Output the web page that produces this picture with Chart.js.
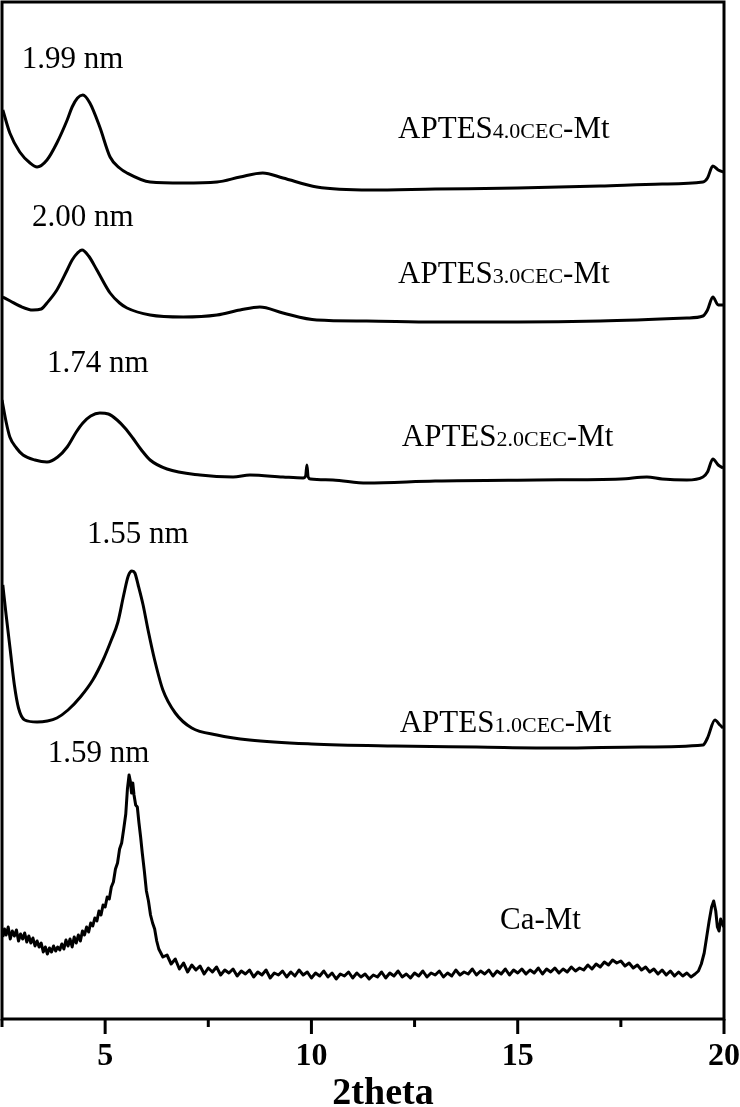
<!DOCTYPE html>
<html>
<head>
<meta charset="utf-8">
<title>XRD patterns</title>
<script src="https://cdn.jsdelivr.net/npm/chart.js@4.4.0/dist/chart.umd.min.js"></script>
<style>
  html, body { margin: 0; padding: 0; background: #fff; }
  canvas { display: block; }
</style>
</head>
<body>
<canvas id="xrd" width="740" height="1107"></canvas>
<script>
// sample names, top to bottom, and the basal spacing noted over each first peak
const sampleNames = ['APTES4.0CEC-Mt', 'APTES3.0CEC-Mt', 'APTES2.0CEC-Mt', 'APTES1.0CEC-Mt', 'Ca-Mt'];
const spacingLabels = ['1.99 nm', '2.00 nm', '1.74 nm', '1.55 nm', '1.59 nm'];
const xTickValues = [5, 10, 15, 20];

// 2theta (deg) and stacked intensity (a.u., offsets included)
const theta40 = [2.52, 2.69, 2.93, 3.18, 3.35, 3.59, 3.83, 4.08, 4.2, 4.33, 4.46, 4.63, 4.87, 5.12, 5.35, 5.53, 6.09, 6.89, 7.71, 8.27, 8.82, 9.31, 10.13, 11.42, 13, 15, 17, 18.5, 19.49, 19.6, 19.73, 19.86, 19.98];
const int40 = [909, 886, 867, 856, 852, 859, 876, 899, 912, 921, 924, 916, 892, 862, 851, 846, 837, 836, 837, 842, 846, 841, 832, 829, 830, 831, 833, 835, 837, 841, 853, 849, 847];

const theta30 = [2.52, 2.7, 2.93, 3.25, 3.45, 3.59, 3.83, 4.08, 4.2, 4.33, 4.44, 4.6, 4.8, 5.12, 5.35, 5.53, 6.09, 6.89, 7.71, 8.27, 8.75, 9.31, 10.13, 11.34, 13, 15, 17, 19.1, 19.49, 19.6, 19.73, 19.86, 19.98];
const int30 = [722, 718, 713, 709, 710, 716, 729, 749, 759, 766, 769, 763, 749, 726, 716, 711, 704, 702, 704, 709, 712, 706, 699, 698, 697, 697, 698, 701, 703, 709, 722, 714, 714];

const theta20 = [2.5, 2.6, 2.69, 2.85, 3.01, 3.3, 3.59, 3.85, 4.08, 4.3, 4.46, 4.65, 4.87, 5.08, 5.29, 5.48, 5.67, 5.88, 6.09, 6.5, 7.3, 8.1, 8.51, 9.31, 9.8, 9.86, 9.89, 9.92, 9.98, 10.52, 11.34, 13, 15.46, 17.5, 18.13, 18.5, 19.1, 19.49, 19.6, 19.73, 19.86, 19.98];
const int20 = [619, 597, 582, 571, 564, 559, 557, 562, 572, 587, 596, 603, 606, 605, 599, 591, 581, 569, 559, 550, 544, 542, 544, 542, 541, 543, 554, 542, 540, 539, 536, 538, 539, 540, 542, 540, 539, 542, 547, 560, 554, 551];

const theta10 = [2.52, 2.6, 2.7, 2.8, 2.9, 3.05, 3.35, 3.6, 3.83, 4.1, 4.4, 4.7, 4.95, 5.15, 5.31, 5.45, 5.56, 5.65, 5.72, 5.8, 5.92, 6.04, 6.2, 6.4, 6.7, 7.1, 7.71, 8.5, 10, 12, 14, 16, 18, 19.49, 19.6, 19.78, 19.9, 19.98];
const int10 = [434, 404, 369, 334, 311, 299, 297, 298, 301, 309, 322, 339, 359, 379, 397, 424, 443, 448, 446, 434, 414, 389, 359, 329, 306, 291, 284, 279, 275, 273, 272, 271, 272, 274, 281, 299, 294, 291];

const thetaCa = [
  2.52, 2.56, 2.6, 2.65, 2.7, 2.75, 2.8, 2.85, 2.9, 2.95, 3.0, 3.05, 3.1, 3.15, 3.2, 3.25, 3.3, 3.35, 3.4, 3.45,
  3.5, 3.55, 3.6, 3.65, 3.7, 3.75, 3.8, 3.85, 3.9, 3.95, 4.0, 4.05, 4.1, 4.15, 4.2, 4.25, 4.3, 4.35, 4.4, 4.45,
  4.5, 4.55, 4.6, 4.65, 4.7, 4.75, 4.8, 4.85, 4.9, 4.95, 5.0, 5.05, 5.1, 5.15, 5.2, 5.25, 5.3, 5.35, 5.4, 5.45,
  5.5, 5.54, 5.58, 5.61, 5.64, 5.67, 5.7, 5.74, 5.78, 5.82, 5.86, 5.9, 5.95, 6.0, 6.05, 6.1, 6.15, 6.2, 6.25, 6.3,
  6.4, 6.5, 6.6, 6.7, 6.8, 6.9, 7.0, 7.1, 7.2, 7.3, 7.4, 7.5, 7.6, 7.7, 7.8, 7.9, 8.0, 8.1, 8.2, 8.3,
  8.4, 8.5, 8.6, 8.7, 8.8, 8.9, 9.0, 9.1, 9.2, 9.3, 9.4, 9.5, 9.6, 9.7, 9.8, 9.9, 10.0, 10.1, 10.2, 10.3,
  10.4, 10.5, 10.6, 10.7, 10.8, 10.9, 11.0, 11.1, 11.2, 11.3, 11.4, 11.5, 11.6, 11.7, 11.8, 11.9, 12.0, 12.1, 12.2, 12.3,
  12.4, 12.5, 12.6, 12.7, 12.8, 12.9, 13.0, 13.1, 13.2, 13.3, 13.4, 13.5, 13.6, 13.7, 13.8, 13.9, 14.0, 14.1, 14.2, 14.3,
  14.4, 14.5, 14.6, 14.7, 14.8, 14.9, 15.0, 15.1, 15.2, 15.3, 15.4, 15.5, 15.6, 15.7, 15.8, 15.9, 16.0, 16.1, 16.2, 16.3,
  16.4, 16.5, 16.6, 16.7, 16.8, 16.9, 17.0, 17.1, 17.2, 17.3, 17.4, 17.5, 17.6, 17.7, 17.8, 17.9, 18.0, 18.1, 18.2, 18.3,
  18.4, 18.5, 18.6, 18.7, 18.8, 18.9, 19.0, 19.1, 19.2, 19.3, 19.38, 19.45, 19.52, 19.58, 19.64, 19.7, 19.75, 19.8, 19.84, 19.88,
  19.92, 19.96, 19.99
];
const intCa = [
  82, 90, 84, 92, 80, 88, 83, 89, 78, 85, 80, 86, 77, 83, 76, 81, 73, 78, 72, 76,
  67, 72, 65, 71, 67, 73, 68, 72, 69, 75, 70, 79, 73, 80, 72, 82, 76, 84, 78, 88,
  84, 92, 87, 96, 93, 101, 98, 108, 104, 114, 112, 122, 120, 132, 137, 150, 156, 170, 176, 190,
  205, 230, 244, 238, 226, 236, 224, 214, 212, 196, 182, 166, 148, 128, 118, 104, 96, 90, 78, 70,
  62, 64, 55, 60, 50, 56, 47, 54, 49, 53, 45, 51, 47, 52, 44, 49, 46, 50, 43, 48,
  45, 49, 42, 47, 44, 49, 41, 46, 44, 48, 42, 47, 43, 49, 44, 47, 41, 46, 43, 48,
  42, 46, 40, 45, 43, 47, 41, 46, 42, 45, 40, 44, 42, 47, 41, 46, 43, 48, 42, 45,
  41, 46, 43, 48, 42, 46, 44, 48, 42, 46, 43, 49, 44, 47, 45, 50, 44, 48, 45, 49,
  43, 48, 45, 50, 44, 49, 46, 50, 45, 49, 46, 51, 45, 50, 47, 51, 46, 50, 47, 52,
  48, 51, 49, 54, 50, 55, 52, 57, 54, 59, 56, 58, 53, 56, 51, 54, 49, 52, 47, 50,
  45, 49, 44, 48, 43, 47, 43, 46, 42, 45, 48, 55, 66, 82, 98, 112, 118, 108, 92, 88,
  100, 96, 92
];

const seriesTheta = [theta40, theta30, theta20, theta10, thetaCa];
const seriesInt = [int40, int30, int20, int10, intCa];

const SERIF = '"Liberation Serif", "Times New Roman", serif';

// where the texts sit, in data units (left edge, baseline)
const spacingAt = [[2.98, 951], [3.23, 793], [3.59, 647], [4.56, 476], [3.61, 257]];
const nameAt = [[12.10, 881], [12.10, 736], [12.19, 573], [12.14, 287], [14.57, 90]];

const xrdDecor = {
  id: 'xrdDecor',
  afterDraw(chart) {
    const { ctx, chartArea: a, scales: { x, y } } = chart;
    ctx.save();
    ctx.fillStyle = '#000';
    ctx.strokeStyle = '#000';
    ctx.textBaseline = 'alphabetic';
    ctx.textAlign = 'left';

    // d-spacing notes
    ctx.font = '31px ' + SERIF;
    spacingLabels.forEach((t, i) => {
      ctx.fillText(t, x.getPixelForValue(spacingAt[i][0]), y.getPixelForValue(spacingAt[i][1]));
    });

    // sample names, CEC part set smaller
    sampleNames.forEach((name, i) => {
      let px = x.getPixelForValue(nameAt[i][0]);
      const py = y.getPixelForValue(nameAt[i][1]);
      const m = name.match(/^(APTES)([\d.]+CEC)(-Mt)$/);
      const parts = m ? [[m[1], 31], [m[2], 22], [m[3], 31]] : [[name, 31]];
      parts.forEach(([txt, size]) => {
        ctx.font = size + 'px ' + SERIF;
        ctx.fillText(txt, px, py);
        px += ctx.measureText(txt).width;
      });
    });

    // frame
    ctx.lineWidth = 3;
    ctx.strokeRect(a.left, a.top, a.right - a.left, a.bottom - a.top);

    // bottom ticks, major every 5, minor between
    for (let v = 2.5; v <= 20.001; v += 2.5) {
      const px = x.getPixelForValue(v);
      const len = Math.abs(v % 5) < 1e-6 ? 15 : 8;
      ctx.beginPath();
      ctx.moveTo(px, a.bottom);
      ctx.lineTo(px, a.bottom + len);
      ctx.stroke();
    }

    // axis title
    ctx.font = 'bold 38px ' + SERIF;
    ctx.textAlign = 'center';
    ctx.fillText('2theta', 383, 1104);
    ctx.restore();
  }
};

const datasets = sampleNames.map((name, i) => ({
  label: name,
  data: seriesTheta[i].map((t, k) => ({ x: t, y: seriesInt[i][k] })),
  showLine: true,
  borderColor: '#000',
  borderWidth: 3,
  pointRadius: 0,
  // raw Ca-Mt scan is noisy, keep straight segments there
  cubicInterpolationMode: name === 'Ca-Mt' ? 'default' : 'monotone',
  tension: 0,
  borderJoinStyle: 'round',
  fill: false
}));

new Chart(document.getElementById('xrd'), {
  type: 'scatter',
  data: { datasets },
  options: {
    responsive: false,
    animation: false,
    devicePixelRatio: 1,
    layout: { padding: { left: 2, right: 16, top: 2, bottom: 0 } },
    plugins: { legend: { display: false }, tooltip: { enabled: false } },
    scales: {
      x: {
        type: 'linear',
        min: 2.5,
        max: 20,
        afterFit: (scale) => {
          scale.height = 88;
          scale.paddingLeft = 0;
          scale.paddingRight = 0;
        },
        afterBuildTicks: (scale) => {
          scale.ticks = xTickValues.map(v => ({ value: v }));
        },
        grid: { display: false },
        border: { display: false },
        ticks: {
          color: '#000',
          padding: 11,
          autoSkip: false,
          maxRotation: 0,
          font: { family: SERIF, size: 32, weight: 'bold' }
        }
      },
      y: {
        display: false,
        min: 0,
        max: 1017
      }
    }
  },
  plugins: [xrdDecor]
});
</script>
</body>
</html>
